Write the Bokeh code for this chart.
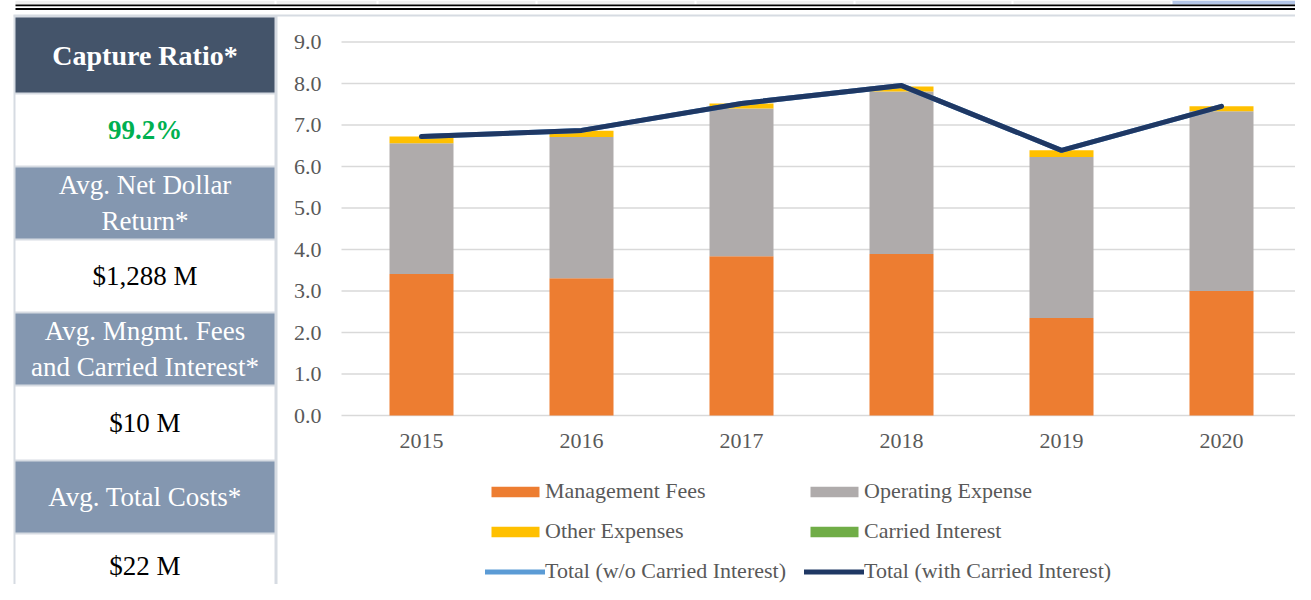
from bokeh.plotting import figure
from bokeh.models import (Range1d, FixedTicker, NumeralTickFormatter,
                          Legend, LegendItem, ColumnDataSource)
from bokeh.core.properties import value
from bokeh.embed import file_html
from bokeh.resources import INLINE

# ---------------- data ----------------
years = ["2015", "2016", "2017", "2018", "2019", "2020"]
management_fees = [3.41, 3.31, 3.84, 3.89, 2.35, 3.00]
operating_expense = [3.15, 3.40, 3.56, 3.92, 3.88, 4.33]
other_expenses = [0.16, 0.15, 0.12, 0.12, 0.16, 0.12]
carried_interest = [0.0, 0.0, 0.0, 0.0, 0.0, 0.0]
total_wo_carried = [6.72, 6.87, 7.52, 7.95, 6.39, 7.45]
total_with_carried = [6.72, 6.87, 7.52, 7.95, 6.39, 7.45]
y_ticks = [0, 1, 2, 3, 4, 5, 6, 7, 8, 9]

series_names = ["Management Fees", "Operating Expense", "Other Expenses", "Carried Interest"]
line_names = ["Total (w/o Carried Interest)", "Total (with Carried Interest)"]

panel_headers = ["Capture Ratio*", "Avg. Net Dollar\nReturn*",
                 "Avg. Mngmt. Fees\nand Carried Interest*", "Avg. Total Costs*"]
panel_values = ["99.2%", "$1,288 M", "$10 M", "$22 M"]

# ---------------- styles ----------------
FONT = "Liberation Serif"
C_ORANGE = "#ED7D31"
C_GRAY = "#AFABAB"
C_YELLOW = "#FFC000"
C_GREEN = "#70AD47"
C_LBLUE = "#5B9BD5"
C_NAVY = "#1F3864"
C_TEXT = "#595959"
C_BORDER = "#D6DBE2"

W, H = 1295, 584
PLOT_L, PLOT_R, PLOT_T, PLOT_B = 341, 1301, 41.5, 415   # chart area in canvas px
n = len(years)
xs_per_px = n / (PLOT_R - PLOT_L)
ys_per_px = 9 / (PLOT_B - PLOT_T)

x_start = -PLOT_L * xs_per_px
x_end = x_start + W * xs_per_px
y_end = 9 + PLOT_T * ys_per_px
y_start = -(H - PLOT_B) * ys_per_px

p = figure(width=W, height=H, x_range=Range1d(x_start, x_end), y_range=Range1d(y_start, y_end),
           output_backend="svg", toolbar_location=None)
p.min_border = 0
p.min_border_left = p.min_border_right = p.min_border_top = p.min_border_bottom = 0
p.outline_line_color = None
p.background_fill_color = "white"
p.border_fill_color = "white"
p.grid.visible = False
p.extra_x_ranges = {"px": Range1d(0, W)}
p.extra_y_ranges = {"px": Range1d(H, 0)}
PX = dict(x_range_name="px", y_range_name="px", line_color=None)

# ---------------- top strip (page px) ----------------
p.quad(left=[15], right=[W], top=[0], bottom=[4], fill_color="#EEEEEE", **PX)
p.quad(left=[1171], right=[W], top=[0], bottom=[4], fill_color="#B4C6E7", **PX)
seps = [275, 377, 536, 695, 854, 1012, 1171]
p.quad(left=[s - 1 for s in seps], right=[s + 1 for s in seps], top=[0] * 7, bottom=[4] * 7,
       fill_color="white", **PX)
p.quad(left=[15, 15], right=[W, W], top=[4, 7.4], bottom=[5.8, 9.4], fill_color="black", **PX)
p.quad(left=[13], right=[W], top=[14], bottom=[16], fill_color=C_BORDER, **PX)

# ---------------- left panel ----------------
p.quad(left=[13], right=[277], top=[15], bottom=[600], fill_color=C_BORDER, **PX)
cells_top = [17, 94, 167, 240, 313, 386, 461, 534]
cells_bot = [92, 165, 238, 311, 384, 459, 532, 600]
cells_col = ["#44546A", "white", "#8497B0", "white", "#8497B0", "white", "#8497B0", "white"]
p.quad(left=[15] * 8, right=[274] * 8, top=cells_top, bottom=cells_bot,
       fill_color=cells_col, **PX)

cx = 144.5
hdr_y = [(cells_top[i] + cells_bot[i]) / 2 for i in (0, 2, 4, 6)]
val_y = [(cells_top[i] + cells_bot[i]) / 2 for i in (1, 3, 5)] + [565]
common = dict(text_font=value(FONT), text_align="center",
              text_baseline="middle", x_range_name="px", y_range_name="px")
p.text(x=[cx], y=[hdr_y[0]], text=[panel_headers[0]], text_font_style="bold",
       text_font_size="28px", text_color="white", **common)
p.text(x=[cx] * 3, y=hdr_y[1:], text=panel_headers[1:], text_color="white",
       text_font_size="27px", text_line_height=1.18, **common)
p.text(x=[cx], y=[val_y[0]], text=[panel_values[0]], text_font_style="bold",
       text_font_size="27px", text_color="#00B050", **common)
p.text(x=[cx] * 3, y=val_y[1:], text=panel_values[1:], text_color="black",
       text_font_size="27px", **common)

# ---------------- chart ----------------
xpos = [i + 0.5 for i in range(n)]
src = ColumnDataSource(dict(x=xpos, mf=management_fees, oe=operating_expense,
                            ot=other_expenses, ci=carried_interest,
                            t1=total_wo_carried, t2=total_with_carried))

grid_right = (1298 - PLOT_L) * xs_per_px
p.segment(x0=[0] * len(y_ticks), x1=[grid_right] * len(y_ticks), y0=y_ticks, y1=y_ticks,
          line_color="#D9D9D9", line_width=1.6)

bars = p.vbar_stack(["mf", "oe", "ot", "ci"], x="x", width=0.4, source=src,
                    fill_color=[C_ORANGE, C_GRAY, C_YELLOW, C_GREEN], line_color=None)
l1 = p.line("x", "t1", source=src, line_color=C_LBLUE, line_width=5,
            line_cap="round", line_join="round")
l2 = p.line("x", "t2", source=src, line_color=C_NAVY, line_width=5,
            line_cap="round", line_join="round")

p.yaxis.fixed_location = 0
p.xaxis.fixed_location = 0
p.yaxis.ticker = FixedTicker(ticks=y_ticks)
p.yaxis.formatter = NumeralTickFormatter(format="0.0")
p.xaxis.ticker = FixedTicker(ticks=xpos)
p.xaxis.major_label_overrides = {xv: yr for xv, yr in zip(xpos, years)}
for ax in (p.xaxis[0], p.yaxis[0]):
    ax.axis_line_color = None
    ax.major_tick_line_color = None
    ax.minor_tick_line_color = None
    ax.major_tick_out = 0
    ax.major_tick_in = 0
    ax.major_label_text_font = FONT
    ax.major_label_text_font_size = "22px"
    ax.major_label_text_color = C_TEXT
p.yaxis.major_label_standoff = 20
p.xaxis.major_label_standoff = 18

items = [
    LegendItem(label=series_names[0], renderers=[bars[0]]),
    LegendItem(label=series_names[2], renderers=[bars[2]]),
    LegendItem(label=line_names[0], renderers=[l1]),
    LegendItem(label=series_names[1], renderers=[bars[1]]),
    LegendItem(label=series_names[3], renderers=[bars[3]]),
    LegendItem(label=line_names[1], renderers=[l2]),
]
legend = Legend(items=items, nrows=3, location=(485, 0),
                label_text_font=FONT, label_text_font_size="22px", label_text_color=C_TEXT,
                glyph_width=60, glyph_height=13, label_standoff=0, spacing=14,
                label_width=245,
                padding=0, margin=0, border_line_color=None, background_fill_alpha=0)
p.add_layout(legend, "center")

open("out.html", "w").write(file_html(p, INLINE))
